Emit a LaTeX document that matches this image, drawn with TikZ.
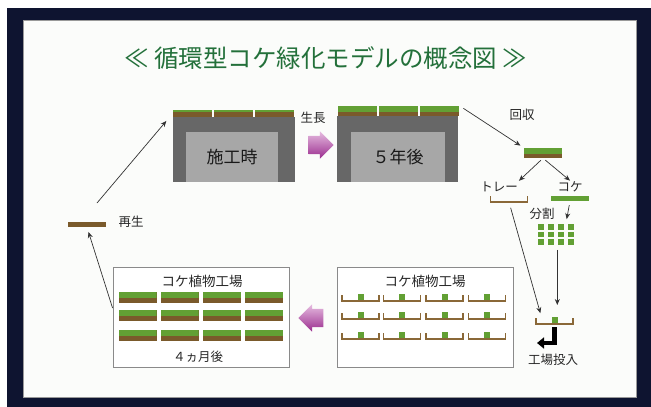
\documentclass[tikz,border=0pt]{standalone}
\usepackage{fontspec}
\newfontfamily\jpfont{Noto Sans CJK JP}
\usetikzlibrary{shapes.arrows,arrows.meta,calc}

\definecolor{frameNavy}{HTML}{0E1430}
\definecolor{paper}{HTML}{FBFCFA}
\definecolor{moss}{HTML}{62A034}
\definecolor{soil}{HTML}{7A5A2B}
\definecolor{trayBrown}{HTML}{8A6838}
\definecolor{wallDark}{HTML}{676767}
\definecolor{wallLight}{HTML}{A7A7A7}
\definecolor{titleGreen}{HTML}{23703A}
\definecolor{plum}{HTML}{9A2C8E}
\definecolor{plumLight}{HTML}{E6BCE0}
\definecolor{boxGray}{HTML}{8A8A8A}

\tikzset{
  % moss tile: soil with a green top of depth #1
  tile/.style={rectangle,fill=soil,minimum width=38pt,minimum height=11pt,inner sep=0pt,
    path picture={\fill[moss] (path picture bounding box.north west)
      rectangle ([yshift=-#1]path picture bounding box.north east);}},
  tile/.default=6pt,
  trayLine/.style={draw=trayBrown,line width=1.7pt,line cap=rect},
  tray/.style={rectangle,minimum width=37pt,minimum height=5pt,inner sep=0pt,outer sep=0pt,
    append after command={
      (\tikzlastnode.north west) edge[trayLine] (\tikzlastnode.south west)
      (\tikzlastnode.south west) edge[trayLine] (\tikzlastnode.south east)
      (\tikzlastnode.south east) edge[trayLine] (\tikzlastnode.north east)}}
}

\begin{document}
\begin{tikzpicture}[x=1pt,y=-1pt]
\tikzstyle{txt}=[font=\jpfont\fontsize{12.5}{14}\selectfont,text=black!85,inner sep=1pt]
\tikzstyle{boxTitle}=[font=\jpfont\fontsize{13.5}{15}\selectfont,text=black!85,inner sep=1pt]
\tikzstyle{wall}=[rectangle,fill=wallDark,inner sep=0pt,outer sep=0pt]
\tikzstyle{window}=[rectangle,fill=wallLight,inner sep=0pt,font=\jpfont\fontsize{17}{19}\selectfont,text=black!90]
\tikzstyle{factory}=[rectangle,draw=boxGray,line width=.9pt,fill=white,minimum width=176pt,minimum height=100pt]
\tikzstyle{seedling}=[rectangle,fill=moss,minimum size=6pt,inner sep=0pt]
\tikzstyle{piece}=[rectangle,fill=moss,minimum width=6pt,minimum height=5.5pt,inner sep=0pt]
\tikzstyle{strip}=[rectangle,minimum width=38pt,minimum height=5pt,inner sep=0pt]
\tikzstyle{push}=[single arrow,single arrow head extend=4.5pt,single arrow head indent=0pt,
  minimum height=25pt,inner xsep=0pt,inner ysep=9pt,top color=plumLight,bottom color=plum]
\tikzstyle{flow}=[>={Stealth[length=6pt,width=5pt]},->,draw=black!80,line width=.7pt]
\tikzstyle{feed}=[-{Triangle[length=7pt,width=11pt]},draw=black,line width=4.5pt]

\useasboundingbox (0,0) rectangle (651,407);
\fill[white] (0,0) rectangle (651,407);
\fill[frameNavy] (7,8) rectangle (651,407);
\filldraw[fill=paper,draw=black!40,line width=.6pt] (23,20) rectangle (636,397);

\node[font=\jpfont\fontsize{24.5}{28}\selectfont,text=titleGreen] (title) at (325.5,58)
  {≪ 循環型コケ緑化モデルの概念図 ≫};

%buildings.
\node[wall,minimum width=122pt,minimum height=65pt] (wallA) at (234,149.5) {};
\node[window,minimum width=92pt,minimum height=50pt,anchor=south] (winA) at (232,182) {施工時};
\foreach \i in {0,1,2}
  \node[tile=2.5pt,minimum width=39pt,minimum height=7pt,anchor=south] (roofA\i) at (192.5+\i*41,117) {};

\node[wall,minimum width=121pt,minimum height=66pt] (wallB) at (397.5,149) {};
\node[window,minimum width=94pt,minimum height=50pt,anchor=south] (winB) at (398,182) {５年後};
\foreach \i in {0,1,2}
  \node[tile=6pt,minimum width=39pt,minimum height=10pt,anchor=south] (roofB\i) at (357.5+\i*41,116) {};

\node[push] (growArrow) at (316.5,145) {};
\node[txt] (grow) at (313,118) {生長};

%harvest and split.
\node[txt] (collect) at (522,115) {回収};
\node[tile,minimum height=10pt] (harvest) at (543,153) {};
\draw[flow,shorten <=5pt,shorten >=4pt] (roofB2.north east) -- (harvest.north west);

\node[txt] (trayLabel) at (499,187) {トレー};
\node[txt] (mossLabel) at (570,187) {コケ};
\draw[flow,shorten <=3pt] (harvest.south) -- (trayLabel.north east);
\draw[flow,shorten <=3pt] (harvest.south) -- (mossLabel.north);

\node[tray] (emptyTray) at (509,199.5) {};
\node[strip,fill=moss] (mossStrip) at (570,198.5) {};

\node[txt] (split) at (542,214) {分割};
\foreach \r/\y in {1/227,2/234.5,3/242}
  \foreach \c/\x in {1/540.5,2/550.5,3/560.5,4/571}
    \node[piece] (g\r\c) at (\x,\y) {};
\draw[flow,shorten <=4pt,shorten >=5pt] (mossStrip.south) -- ($(g13.north)!.5!(g14.north)$);

%into the factory.
\node[tray] (inTray) at (554.5,321.5) {};
\node[seedling,anchor=south,yshift=.8pt] (inMoss) at (inTray.south) {};
\draw[flow,shorten <=5pt,shorten >=14pt] (g33.south west) -- (g33.south west |- inTray.north);
\draw[flow,shorten <=6pt,shorten >=6pt] (emptyTray.south) -- ([xshift=6pt]inTray.north west);

\coordinate (feedEnd) at (537,343);
\draw[feed] ([yshift=-3pt]inTray.south) |- (feedEnd);
\node[txt] (feedLabel) at (553,360) {工場投入};

%moss factory, seedlings.
\node[factory] (factoryR) at (425,317.5) {};
\node[boxTitle] (titleR) at (425,281) {コケ植物工場};
\foreach \r/\y in {1/298.5,2/316.5,3/336.5}
  \foreach \c/\x in {1/360.5,2/402,3/444.5,4/487} {
    \node[tray] (t\r\c) at (\x,\y) {};
    \node[seedling,anchor=south,yshift=.8pt] (s\r\c) at (t\r\c.south) {};
  }

\node[push,shape border rotate=180] (backArrow) at (315.5,318) {};

%moss factory, grown tiles.
\node[factory] (factoryL) at (201,317) {};
\node[boxTitle] (titleL) at (202,281) {コケ植物工場};
\foreach \r/\y in {1/297.5,2/315.5,3/335}
  \foreach \c/\x in {1/137.5,2/179.5,3/222,4/264}
    \node[tile] (m\r\c) at (\x,\y) {};
\node[boxTitle,font=\jpfont\fontsize{12.5}{14}\selectfont] (months) at (198,357) {４ヵ月後};

%regrowth.
\node[strip,fill=soil] (rebirth) at (87,224.5) {};
\node[txt] (rebirthLabel) at (131,222) {再生};
\draw[flow,shorten >=5pt] ([yshift=9pt]factoryL.west) -- (rebirth.south);
\coordinate (regrow) at (97,203);
\draw[flow,shorten >=10pt] (regrow) -- (roofA0.west);

\end{tikzpicture}
\end{document}
